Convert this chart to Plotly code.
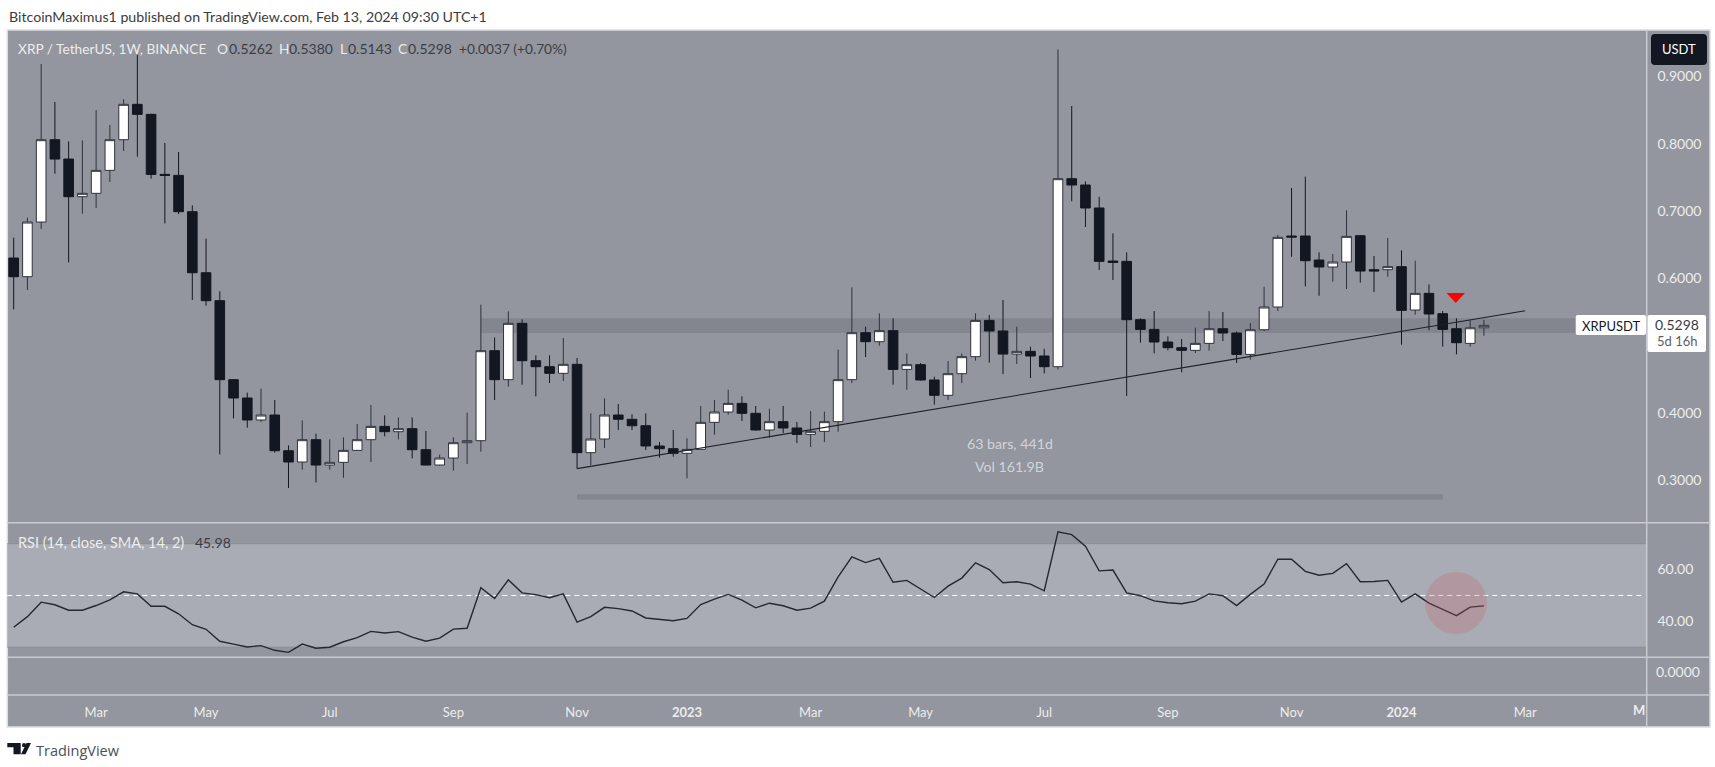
import pandas as pd
import plotly.graph_objects as go

W, H = 1715, 767
FONT = "Lato"

# ─── Data ─────────────────────────────────────────────────────────────────────
weeks = pd.date_range("2022-01-24", periods=108, freq="7D")

opens = [0.6300, 0.6022, 0.6835, 0.8060, 0.7772, 0.7212, 0.7262, 0.7604, 0.8060, 0.8586, 0.8437, 0.7544,
         0.7529, 0.6989, 0.6081, 0.5665, 0.4490, 0.4217, 0.3890, 0.3964, 0.3433, 0.3265, 0.3597, 0.3220,
         0.3260, 0.3438, 0.3597, 0.3795, 0.3716, 0.3761, 0.3448, 0.3220, 0.3324, 0.3552, 0.3582, 0.4921,
         0.4490, 0.5328, 0.4772, 0.4683, 0.4584, 0.4718, 0.3404, 0.3607, 0.3964, 0.3900, 0.3805, 0.3503,
         0.3463, 0.3394, 0.3453, 0.3855, 0.4009, 0.4137, 0.3989, 0.3741, 0.3865, 0.3771, 0.3676, 0.3721,
         0.3865, 0.4490, 0.5189, 0.5055, 0.5219, 0.4643, 0.4713, 0.4485, 0.4257, 0.4579, 0.4832, 0.5372,
         0.5214, 0.4871, 0.4911, 0.4842, 0.4683, 0.7480, 0.7386, 0.7044, 0.6255, 0.6250, 0.5382, 0.5238,
         0.5050, 0.4966, 0.4926, 0.5030, 0.5248, 0.5184, 0.4866, 0.5233, 0.5571, 0.6627, 0.6627, 0.6270,
         0.6166, 0.6240, 0.6632, 0.6126, 0.6126, 0.6171, 0.5526, 0.5774, 0.5472, 0.5248, 0.5030, 0.5262]
highs = [0.6602, 0.6900, 0.9186, 0.8620, 0.8035, 0.8050, 0.8501, 0.8278, 0.8660, 0.9320, 0.8447, 0.8011,
         0.7877, 0.7083, 0.6587, 0.5804, 0.4495, 0.4296, 0.4356, 0.4187, 0.3513, 0.3885, 0.3686, 0.3602,
         0.3632, 0.3830, 0.4113, 0.3959, 0.3929, 0.3929, 0.3726, 0.3374, 0.3632, 0.3999, 0.5605, 0.5119,
         0.5506, 0.5387, 0.4852, 0.4852, 0.5109, 0.4812, 0.3989, 0.4212, 0.4128, 0.3974, 0.3989, 0.3562,
         0.3741, 0.3617, 0.4098, 0.4187, 0.4341, 0.4242, 0.4098, 0.4058, 0.4098, 0.3860, 0.4023, 0.4014,
         0.4936, 0.5863, 0.5278, 0.5476, 0.5402, 0.4881, 0.4738, 0.4534, 0.4767, 0.4881, 0.5476, 0.5452,
         0.5675, 0.5278, 0.4981, 0.4951, 0.9404, 0.8561, 0.7440, 0.7212, 0.6667, 0.6384, 0.5402, 0.5511,
         0.5134, 0.5095, 0.5263, 0.5511, 0.5496, 0.5204, 0.5333, 0.5873, 0.6642, 0.7341, 0.7510, 0.6384,
         0.6359, 0.7009, 0.6642, 0.6329, 0.6597, 0.6414, 0.6260, 0.5908, 0.5511, 0.5402, 0.5372, 0.5380]
lows = [0.5536, 0.5824, 0.6731, 0.7554, 0.6235, 0.6959, 0.7044, 0.7430, 0.7891, 0.7807, 0.7480, 0.6815,
        0.6954, 0.5675, 0.5591, 0.3379, 0.3914, 0.3776, 0.3860, 0.3404, 0.2878, 0.3151, 0.2962, 0.3151,
        0.3030, 0.3433, 0.3265, 0.3647, 0.3602, 0.3319, 0.3215, 0.3210, 0.3136, 0.3235, 0.3418, 0.4187,
        0.4386, 0.4415, 0.4242, 0.4440, 0.4470, 0.3166, 0.3220, 0.3473, 0.3741, 0.3741, 0.3443, 0.3329,
        0.3344, 0.3022, 0.3450, 0.3671, 0.3969, 0.3875, 0.3731, 0.3627, 0.3696, 0.3547, 0.3488, 0.3562,
        0.3716, 0.4440, 0.4827, 0.4995, 0.4415, 0.4341, 0.4475, 0.4118, 0.4187, 0.4440, 0.4772, 0.4743,
        0.4574, 0.4723, 0.4514, 0.4584, 0.4643, 0.7143, 0.6761, 0.6121, 0.5972, 0.4247, 0.5040, 0.4881,
        0.4926, 0.4599, 0.4886, 0.4921, 0.5065, 0.4738, 0.4787, 0.5214, 0.5511, 0.6319, 0.5878, 0.5739,
        0.5948, 0.5838, 0.5933, 0.5794, 0.6022, 0.5010, 0.5457, 0.5224, 0.4981, 0.4866, 0.4981, 0.5143]
closes = [0.6022, 0.6835, 0.8060, 0.7772, 0.7212, 0.7262, 0.7604, 0.8060, 0.8586, 0.8437, 0.7544, 0.7529,
          0.6989, 0.6081, 0.5665, 0.4490, 0.4217, 0.3890, 0.3964, 0.3433, 0.3265, 0.3597, 0.3220, 0.3260,
          0.3438, 0.3597, 0.3795, 0.3716, 0.3761, 0.3448, 0.3220, 0.3324, 0.3552, 0.3582, 0.4921, 0.4490,
          0.5328, 0.4772, 0.4683, 0.4584, 0.4718, 0.3404, 0.3607, 0.3964, 0.3900, 0.3805, 0.3503, 0.3463,
          0.3394, 0.3453, 0.3855, 0.4009, 0.4137, 0.3989, 0.3741, 0.3865, 0.3771, 0.3676, 0.3721, 0.3865,
          0.4490, 0.5189, 0.5055, 0.5219, 0.4643, 0.4713, 0.4485, 0.4257, 0.4579, 0.4832, 0.5372, 0.5214,
          0.4871, 0.4911, 0.4842, 0.4683, 0.7480, 0.7386, 0.7044, 0.6250, 0.6235, 0.5382, 0.5238, 0.5050,
          0.4966, 0.4926, 0.5030, 0.5248, 0.5184, 0.4866, 0.5233, 0.5571, 0.6607, 0.6612, 0.6260, 0.6166,
          0.6240, 0.6622, 0.6106, 0.6106, 0.6171, 0.5521, 0.5774, 0.5467, 0.5238, 0.5040, 0.5262, 0.5298]

rsi = [37.7, 41.8, 47.4, 46.4, 44.3, 44.3, 46.1, 48.3, 51.4, 50.6, 45.8, 45.8,
       42.9, 38.7, 36.9, 32.3, 31.2, 30.1, 30.6, 28.8, 28.0, 31.2, 29.6, 30.0,
       32.1, 33.7, 36.1, 35.5, 36.0, 33.9, 32.3, 33.5, 37.0, 37.3, 53.0, 48.8,
       56.0, 51.0, 50.3, 49.1, 50.6, 39.7, 41.8, 45.4, 44.9, 44.0, 41.3, 40.7,
       40.2, 41.1, 46.5, 48.6, 50.4, 48.2, 45.2, 47.0, 46.0, 44.3, 45.1, 47.8,
       57.2, 64.9, 62.7, 64.3, 55.1, 55.8, 52.4, 49.2, 53.6, 56.7, 62.6, 60.0,
       54.9, 55.3, 54.4, 51.8, 74.6, 73.5, 69.0, 59.5, 59.8, 51.0, 49.9, 47.9,
       47.2, 46.8, 47.8, 50.6, 49.9, 46.1, 50.4, 54.4, 64.0, 64.0, 59.3, 57.8,
       58.5, 62.3, 55.3, 55.4, 55.8, 47.4, 50.6, 47.0, 44.6, 42.2, 45.5, 45.98]

trend_dates = ["2022-11-07", "2024-03-04"]
trend_prices = [0.3166, 0.5516]
zone_prices = [0.5184, 0.5402]
range_dates = ["2022-11-07", "2024-01-22"]
range_prices = [0.2704, 0.2784]

price_ticks = [0.3, 0.4, 0.6, 0.7, 0.8, 0.9]
price_labels = ["0.3000", "0.4000", "0.6000", "0.7000", "0.8000", "0.9000"]
rsi_ticks = [40, 60]
rsi_labels = ["40.00", "60.00"]
month_ticks = ["2022-03-07", "2022-05-02", "2022-07-04", "2022-09-05", "2022-11-07", "2023-01-02",
               "2023-03-06", "2023-05-01", "2023-07-03", "2023-09-04", "2023-11-06", "2024-01-01", "2024-03-04"]
month_labels = ["Mar", "May", "Jul", "Sep", "Nov", "<b>2023</b>", "Mar", "May", "Jul", "Sep", "Nov", "<b>2024</b>", "Mar"]

# ─── Pane geometry (pixels of the 1715x767 page) ──────────────────────────────
LEFT, RIGHT, AXIS_RIGHT = 7.3, 1646.7, 1710
TOP, PRICE_BOTTOM, RSI_BOTTOM, EXTRA_BOTTOM, BOTTOM = 30, 522.7, 657.3, 695, 727

BG = "#93969e"
LINE = "#c8cad0"
LIGHT = "#eceded"
DIM = "#3a3d46"
DARK = "#131722"


def px(x):
    return x / W


def py(y):
    return 1 - y / H


def rect(x0, y0, x1, y1, **kw):
    return dict(type="rect", xref="paper", yref="paper", x0=px(x0), x1=px(x1), y0=py(y0), y1=py(y1), **kw)


def hline(y, color=LINE, x0=LEFT, x1=AXIS_RIGHT, width=1.5):
    return dict(type="line", xref="paper", yref="paper", x0=px(x0), x1=px(x1), y0=py(y), y1=py(y),
                line=dict(color=color, width=width))


def poly(points, **kw):
    path = "M" + " L".join(f"{px(x):.5f},{py(y):.5f}" for x, y in points) + " Z"
    return dict(type="path", xref="paper", yref="paper", path=path, **kw)


def rounded(x0, y0, x1, y1, r, **kw):
    p = lambda x, y: f"{px(x):.5f},{py(y):.5f}"
    path = (f"M{p(x0 + r, y0)} L{p(x1 - r, y0)} Q{p(x1, y0)} {p(x1, y0 + r)} L{p(x1, y1 - r)} Q{p(x1, y1)} {p(x1 - r, y1)}"
            f" L{p(x0 + r, y1)} Q{p(x0, y1)} {p(x0, y1 - r)} L{p(x0, y0 + r)} Q{p(x0, y0)} {p(x0 + r, y0)} Z")
    return dict(type="path", xref="paper", yref="paper", path=path, **kw)


def label(x, y, text, size=14, color=LIGHT, anchor="left", font=FONT):
    return dict(xref="paper", yref="paper", x=px(x), y=py(y), text=text, showarrow=False, xanchor=anchor,
                yanchor="middle", font=dict(family=font, size=size, color=color), borderpad=0)


shapes = [
    rect(LEFT, TOP, AXIS_RIGHT, BOTTOM, fillcolor=BG, line=dict(color="#dcdde1", width=1.5), layer="below"),
    # support zone, from the first touch out to the price scale
    dict(type="rect", xref="x", yref="y", x0="2022-09-19", x1="2024-05-05", y0=zone_prices[0], y1=zone_prices[1],
         fillcolor="#83868e", line_width=0, layer="below"),
    # measured range bar under the candles
    dict(type="rect", xref="x", yref="y", x0=range_dates[0], x1=range_dates[1], y0=range_prices[0], y1=range_prices[1],
         fillcolor="#83868e", line_width=0, layer="below"),
    # RSI band
    dict(type="rect", xref="paper", yref="y2", x0=px(LEFT), x1=px(RIGHT), y0=30, y1=70,
         fillcolor="#a9acb5", line_width=0, layer="below"),
    dict(type="line", xref="paper", yref="y2", x0=px(LEFT), x1=px(RIGHT), y0=70, y1=70,
         line=dict(color="#8c8f97", width=1), layer="below"),
    dict(type="line", xref="paper", yref="y2", x0=px(LEFT), x1=px(RIGHT), y0=30, y1=30,
         line=dict(color="#8c8f97", width=1), layer="below"),
    dict(type="line", xref="paper", yref="y2", x0=px(LEFT), x1=px(1643), y0=50, y1=50,
         line=dict(color="#ffffff", width=1, dash="5px,4px"), layer="below"),
    hline(PRICE_BOTTOM),
    hline(RSI_BOTTOM),
    hline(EXTRA_BOTTOM),
    dict(type="line", xref="paper", yref="paper", x0=px(RIGHT), x1=px(RIGHT), y0=py(TOP), y1=py(BOTTOM),
         line=dict(color=LINE, width=1.5)),
    # pink circle over the RSI dip
    dict(type="circle", xref="paper", yref="paper", x0=px(1456 - 31), x1=px(1456 + 31), y0=py(603 + 31), y1=py(603 - 31),
         fillcolor="rgba(205,90,100,0.25)", line_width=0),
    # red arrow above the breakdown
    poly([(1446.5, 293), (1465, 293), (1455.8, 303)], fillcolor="#ff0000", line_width=0),
    # USDT button
    rounded(1651, 34, 1707, 65, 4, fillcolor=DARK, line_width=0),
    # last price labels
    rounded(1575.7, 315, 1646, 335, 2, fillcolor="#ffffff", line_width=0),
    rounded(1647.5, 315, 1706, 352, 2, fillcolor="#ffffff", line_width=0),
    # TradingView logo
    poly([(7.3, 743), (20.7, 743), (20.7, 754.3), (13.5, 754.3), (13.5, 747.3), (7.3, 747.3)], fillcolor=DARK, line_width=0),
    dict(type="circle", xref="paper", yref="paper", x0=px(22), x1=px(26), y0=py(747.3), y1=py(743), fillcolor=DARK, line_width=0),
    poly([(26.5, 743), (31, 743), (25.5, 754.3), (21, 754.3)], fillcolor=DARK, line_width=0),
]

annotations = [
    label(8, 17, "BitcoinMaximus1 published on TradingView.com, Feb 13, 2024 09:30 UTC+1", size=14.2, color="#3c3c3c"),
    label(17, 48, "XRP / TetherUS, 1W, BINANCE", size=13.7),
    label(216, 48, "O", size=13.7), label(227.5, 48, "0.5262", size=14, color=DIM),
    label(277.5, 48, "H", size=13.7), label(288, 48, "0.5380", size=14, color=DIM),
    label(339, 48, "L", size=13.7), label(347, 48, "0.5143", size=14, color=DIM),
    label(397, 48, "C", size=13.7), label(406.5, 48, "0.5298", size=14, color=DIM),
    label(458, 48, "+0.0037 (+0.70%)", size=13.7, color=DIM),
    label(17, 542.7, "RSI (14, close, SMA, 14, 2)", size=14.5),
    label(194, 542.7, "45.98", size=14, color=DIM),
    label(1009.5, 443, "63 bars, 441d", size=14.2, color="#d1d4dc", anchor="center"),
    label(1009.5, 467, "Vol 161.9B", size=14.2, color="#d1d4dc", anchor="center"),
    label(1679, 49.5, "USDT", size=13, color="#ffffff", anchor="center"),
    label(1610.8, 325.7, "XRPUSDT", size=13, color=DARK, anchor="center"),
    label(1677, 324.7, "0.5298", size=14, color=DIM, anchor="center"),
    label(1677, 341.2, "5d 16h", size=13, color="#5d6068", anchor="center"),
    label(1678, 671.5, "0.0000", size=14, anchor="center"),
    label(1646, 710, "<b>M</b>", size=13, anchor="right"),
    label(35, 750, "TradingView", size=14.5, color="#4a4e59", font="Open Sans"),
]

fig = go.Figure()

fig.add_trace(go.Candlestick(
    x=weeks, open=opens, high=highs, low=lows, close=closes,
    increasing=dict(fillcolor="#ffffff", line=dict(color="#2f333e", width=1)),
    decreasing=dict(fillcolor=DARK, line=dict(color=DARK, width=1)),
    whiskerwidth=0, showlegend=False, hoverinfo="skip",
))
fig.add_trace(go.Scatter(
    x=trend_dates, y=trend_prices, mode="lines", line=dict(color="#1c1f27", width=1.1),
    showlegend=False, hoverinfo="skip",
))
fig.add_trace(go.Scatter(
    x=weeks, y=rsi, yaxis="y2", mode="lines", line=dict(color="#26282f", width=1.4),
    showlegend=False, hoverinfo="skip",
))
# empty third pane, only there to carry the time axis
fig.add_trace(go.Scatter(x=[], y=[], yaxis="y3", showlegend=False))

axis_style = dict(showgrid=False, zeroline=False, showline=False, ticks="outside", ticklen=7,
                  tickcolor="rgba(0,0,0,0)", side="right", anchor="x",
                  tickfont=dict(family=FONT, size=14, color=LIGHT))

fig.update_layout(
    width=W, height=H,
    margin=dict(l=0, r=0, t=0, b=0),
    paper_bgcolor="#ffffff",
    plot_bgcolor="rgba(0,0,0,0)",
    boxgap=0,
    showlegend=False,
    xaxis=dict(
        domain=[px(LEFT), px(RIGHT)], anchor="y3", type="date",
        range=["2022-01-20 18:00", "2024-05-04 22:00"],
        rangeslider=dict(visible=False),
        tickmode="array", tickvals=month_ticks, ticktext=month_labels,
        showgrid=False, zeroline=False, showline=False, ticks="outside", ticklen=5,
        tickcolor="rgba(0,0,0,0)", tickfont=dict(family=FONT, size=13, color=LIGHT),
    ),
    yaxis=dict(domain=[py(PRICE_BOTTOM), py(TOP)], range=[0.2362, 0.9692],
               tickmode="array", tickvals=price_ticks, ticktext=price_labels, **axis_style),
    yaxis2=dict(domain=[py(RSI_BOTTOM), py(PRICE_BOTTOM)], range=[26.1, 78.1],
                tickmode="array", tickvals=rsi_ticks, ticktext=rsi_labels, **axis_style),
    yaxis3=dict(domain=[py(EXTRA_BOTTOM), py(RSI_BOTTOM)], range=[0, 1], showticklabels=False,
                showgrid=False, zeroline=False, side="right", anchor="x"),
    shapes=shapes,
    annotations=annotations,
)

fig.write_html("out.html", config={"displayModeBar": False},
               post_script="document.body.style.margin='0';document.body.style.overflow='hidden';")
